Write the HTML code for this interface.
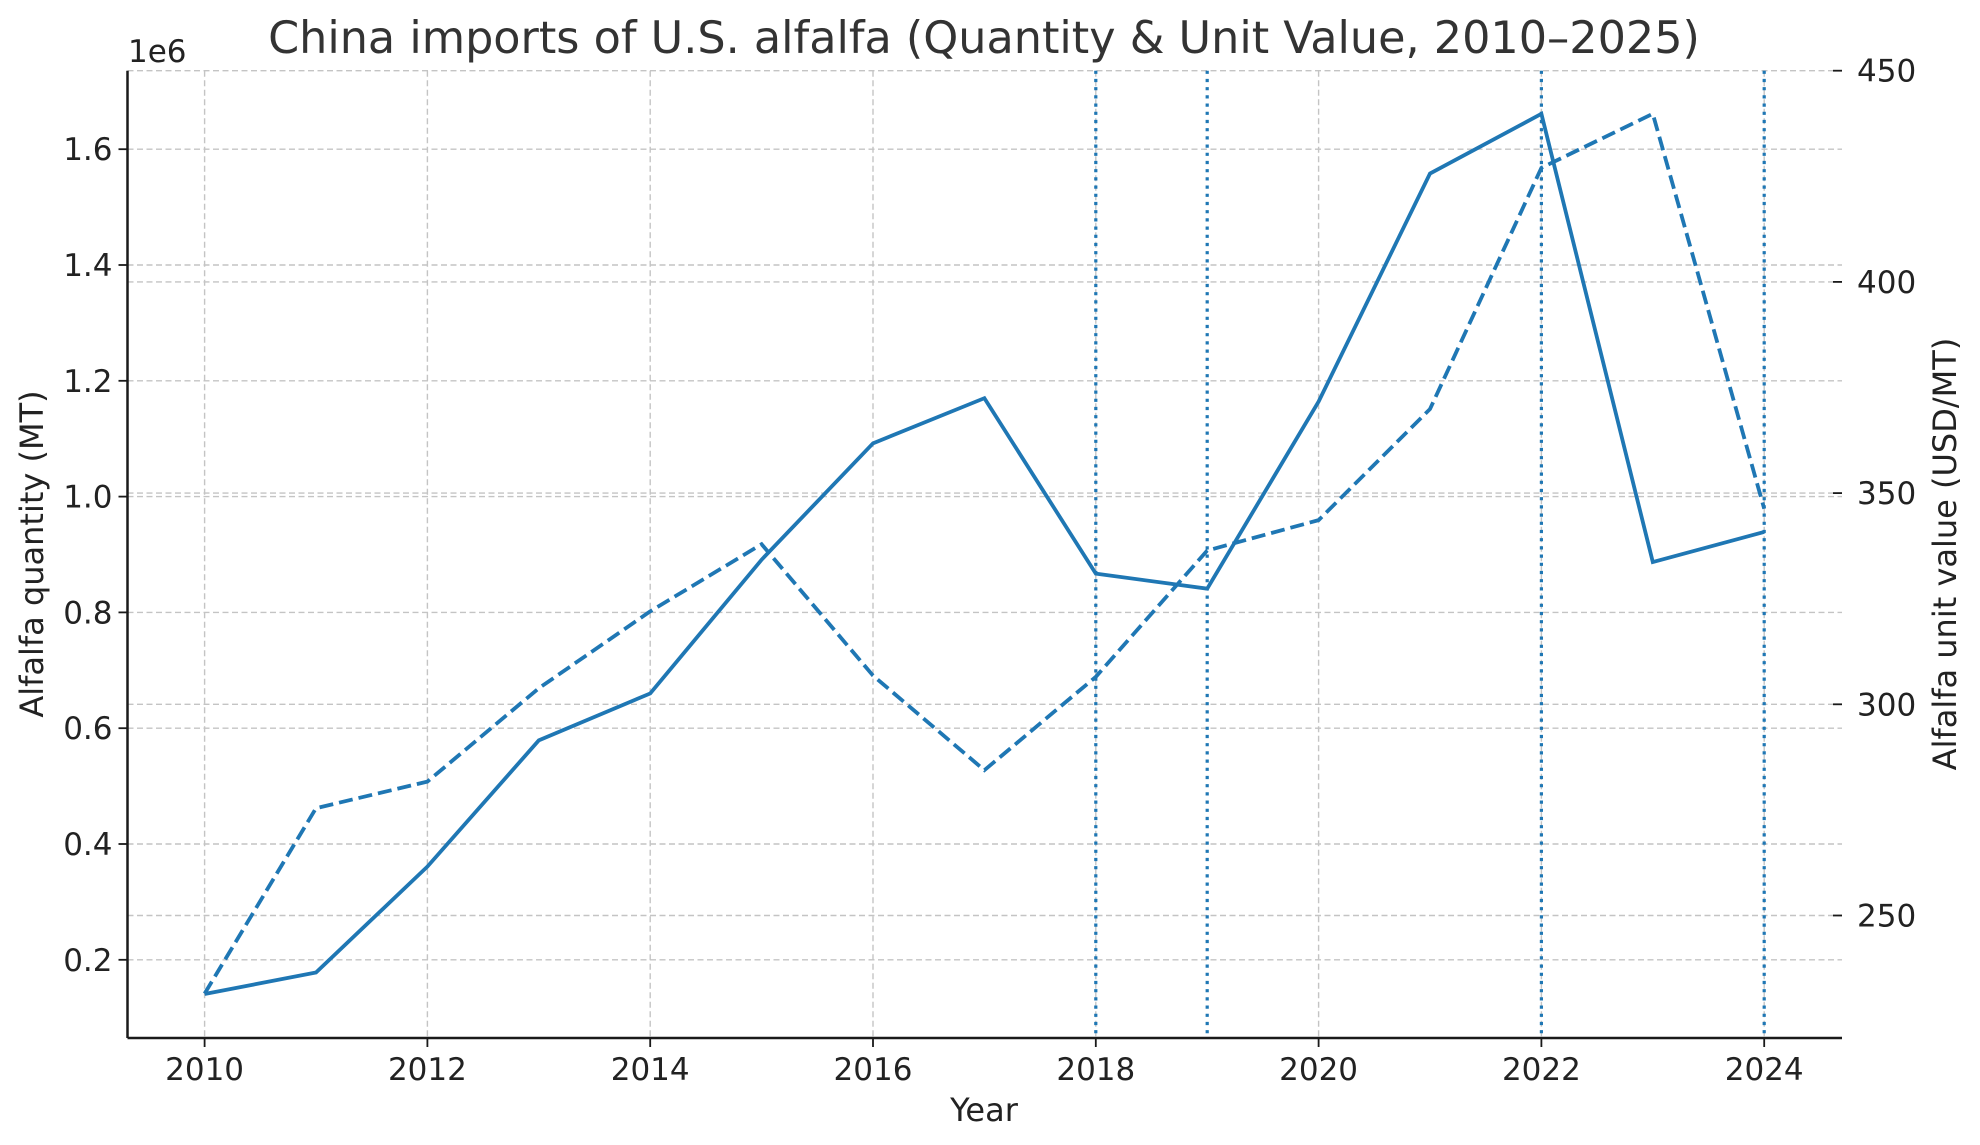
<!DOCTYPE html>
<html><head><meta charset="utf-8"><style>
body{margin:0;background:#fff}
svg{display:block;font-family:"DejaVu Sans","Liberation Sans",sans-serif}
</style></head><body>
<svg id="chart" width="1980" height="1145" viewBox="0 0 1980 1145" xmlns="http://www.w3.org/2000/svg">
<rect width="1980" height="1145" fill="#fff"/>
<g id="grid"></g><g id="marks"></g><g id="axes"></g>
</svg>
<script>
const years=[2010,2011,2012,2013,2014,2015,2016,2017,2018,2019,2020,2021,2022,2023,2024];
const quantity=[0.141,0.178,0.361,0.579,0.660,0.891,1.092,1.170,0.867,0.841,1.164,1.558,1.661,0.887,0.939];
const unitValue=[231.5,275.4,281.7,303.8,322.0,337.9,306.8,284.4,306.5,336.4,343.6,369.9,427.0,439.8,346.3];
const eventYears=[2018,2019,2022,2024];
const xTicks=[2010,2012,2014,2016,2018,2020,2022,2024];
const yLeftTicks=[0.2,0.4,0.6,0.8,1.0,1.2,1.4,1.6];
const yRightTicks=[250,300,350,400,450];

const L=127.5,R=1842,T=70.7,B=1038;
const X=y=>204.6+(y-2010)*111.4;
const YL=v=>959.8-(v-0.2)/0.2*115.8;
const YR=v=>915.5-(v-250)/50*211.2;
const NS="http://www.w3.org/2000/svg";
function mk(tag,attrs,parent,text){const e=document.createElementNS(NS,tag);for(const k in attrs)e.setAttribute(k,attrs[k]);if(text!==undefined)e.textContent=text;parent.appendChild(e);return e;}
const grid=document.getElementById('grid'),marks=document.getElementById('marks'),axes=document.getElementById('axes');
const gs={stroke:'#c4c4c4','stroke-width':1.4,'stroke-dasharray':'6,3.5'};
xTicks.forEach(t=>{const g=mk('line',Object.assign({x1:X(t),x2:X(t),y1:T,y2:B},gs),grid);

});
yLeftTicks.forEach(t=>{const g=mk('line',Object.assign({x1:L,x2:R,y1:YL(t),y2:YL(t)},gs),grid);

});
yRightTicks.forEach(t=>{const g=mk('line',Object.assign({x1:L,x2:R,y1:YR(t),y2:YR(t)},gs),grid);

});
eventYears.forEach(y=>{const l=mk('line',{x1:X(y),x2:X(y),y1:T,y2:B,stroke:'#1f77b4','stroke-width':3.2,'stroke-dasharray':'3.2,5'},marks);

});
const pq=mk('polyline',{points:years.map((y,i)=>X(y)+','+YL(quantity[i])).join(' '),fill:'none',stroke:'#1f77b4','stroke-width':3.8,'stroke-linejoin':'miter'},marks);


const pu=mk('polyline',{points:years.map((y,i)=>X(y)+','+YR(unitValue[i])).join(' '),fill:'none',stroke:'#1f77b4','stroke-width':3.8,'stroke-dasharray':'14,6'},marks);


mk('line',{x1:L,x2:L,y1:T,y2:B,stroke:'#1a1a1a','stroke-width':2.5},axes);
mk('line',{x1:L,x2:R,y1:B,y2:B,stroke:'#1a1a1a','stroke-width':2.5},axes);
const ts={fill:'#222','font-size':'31px'};
xTicks.forEach(t=>{mk('line',{x1:X(t),x2:X(t),y1:B,y2:B+9,stroke:'#1a1a1a','stroke-width':1.8},axes);
const e=mk('text',Object.assign({x:X(t),y:B+42,'text-anchor':'middle'},ts),axes,String(t));

});
yLeftTicks.forEach(t=>{mk('line',{x1:L-9,x2:L,y1:YL(t),y2:YL(t),stroke:'#1a1a1a','stroke-width':1.8},axes);
const e=mk('text',Object.assign({x:L-15,y:YL(t)+11,'text-anchor':'end'},ts),axes,t.toFixed(1));

});
yRightTicks.forEach(t=>{mk('line',{x1:R-9,x2:R,y1:YR(t),y2:YR(t),stroke:'#1a1a1a','stroke-width':1.8},axes);
const e=mk('text',Object.assign({x:R+15,y:YR(t)+11,'text-anchor':'start'},ts),axes,String(t));

});
</script>
<svg style="position:absolute;left:0;top:0" width="1980" height="1145" xmlns="http://www.w3.org/2000/svg">
<text x="984" y="53" text-anchor="middle" font-size="44.5" fill="#333" font-family="DejaVu Sans, Liberation Sans, sans-serif">China imports of U.S. alfalfa (Quantity &amp; Unit Value, 2010–2025)</text>
<text x="128" y="62" font-size="31" fill="#222" font-family="DejaVu Sans, Liberation Sans, sans-serif">1e6</text>
<text x="984" y="1121" text-anchor="middle" font-size="32" fill="#222" font-family="DejaVu Sans, Liberation Sans, sans-serif">Year</text>
<text transform="translate(43,554) rotate(-90)" text-anchor="middle" font-size="32" fill="#222" font-family="DejaVu Sans, Liberation Sans, sans-serif">Alfalfa quantity (MT)</text>
<text transform="translate(1956,554) rotate(-90)" text-anchor="middle" font-size="32" fill="#222" font-family="DejaVu Sans, Liberation Sans, sans-serif">Alfalfa unit value (USD/MT)</text>
</svg>
</body></html>
